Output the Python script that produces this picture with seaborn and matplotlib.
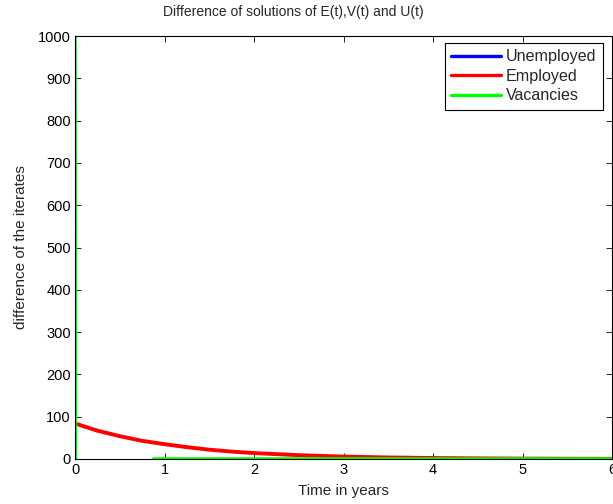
import matplotlib
matplotlib.use("Agg")
import matplotlib.pyplot as plt
import seaborn as sns
import pandas as pd

# Data
t_emp = [0, 0.25, 0.5, 0.75, 1.0, 1.25, 1.5, 1.75, 2.0, 2.5, 3.0, 3.5, 4.0, 4.5, 5.0, 5.5, 6.0]
employed = [84, 67, 54, 43, 35, 28, 22, 17.5, 14, 9, 5.7, 3.6, 2.3, 1.5, 0.9, 0.6, 0.4]
t_vac = [0, 0.005, 0.88, 0.881, 6.0]
vacancies = [1000, -40, -40, 0, 0]
t_unemp = [0, 0.5, 1.0, 2.0, 3.0, 4.0, 5.0, 6.0]
unemployed = [-60, -60, -60, -60, -60, -60, -60, -60]

xticks = [0, 1, 2, 3, 4, 5, 6]
yticks = [0, 100, 200, 300, 400, 500, 600, 700, 800, 900, 1000]

sns.set_style("white")
plt.rcParams['font.family'] = ['Liberation Sans', 'DejaVu Sans']

fig = plt.figure(figsize=(6.13, 5.04), dpi=100)
ax = fig.add_axes([75/613, 45/504, 537/613, 423/504])

df_u = pd.DataFrame({"t": t_unemp, "v": unemployed})
df_e = pd.DataFrame({"t": t_emp, "v": employed})
df_v = pd.DataFrame({"t": t_vac, "v": vacancies})

sns.lineplot(data=df_u, x="t", y="v", ax=ax, color="#0000ff", lw=2.2,
             sort=False, estimator=None, label="Unemployed")
sns.lineplot(data=df_e, x="t", y="v", ax=ax, color="#ff0000", lw=2.8,
             sort=False, estimator=None, label="Employed")
sns.lineplot(data=df_v, x="t", y="v", ax=ax, color="#00ff00", lw=2.6,
             sort=False, estimator=None, label="Vacancies")

ax.set_xlim(0, 6)
ax.set_ylim(0, 1000)
ax.set_xticks(xticks)
ax.set_yticks(yticks)
ax.tick_params(direction="in", length=4, width=0.6, labelsize=10.5,
               top=True, right=True, bottom=True, left=True, colors="black", pad=3)
for s in ax.spines.values():
    s.set_visible(True)
    s.set_color("black")
    s.set_linewidth(0.8)

fig.text(293/613, 1 - 12/504, "Difference of solutions of E(t),V(t) and U(t)",
         fontsize=10, ha="center", va="center")
ax.set_xlabel("Time in years", fontsize=11, labelpad=5)
ax.set_ylabel("difference of the iterates", fontsize=11, labelpad=7)

leg = ax.legend(loc="upper right", fontsize=11.6, frameon=True, fancybox=False,
                framealpha=1, edgecolor="black", handlelength=3.1,
                borderpad=0.4, labelspacing=0.27, handletextpad=0.3,
                borderaxespad=0.0, bbox_to_anchor=(528/537, 416/423))
leg.get_frame().set_linewidth(0.8)
for h in leg.get_lines():
    h.set_linewidth(2.4)

fig.savefig("out.png", dpi=100)
